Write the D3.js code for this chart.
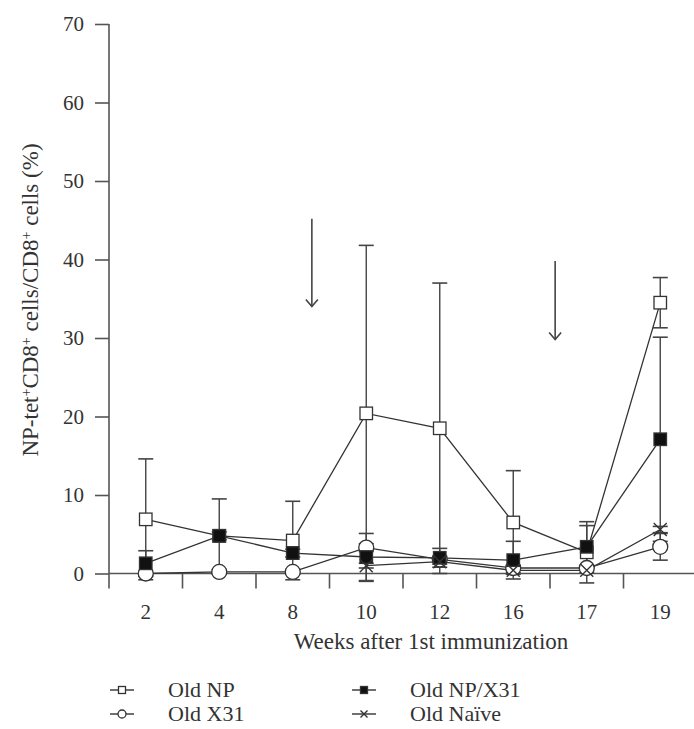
<!DOCTYPE html>
<html>
<head>
<meta charset="utf-8">
<script src="https://cdn.jsdelivr.net/npm/d3@7"></script>
<style>
  body { margin: 0; background: #fff; }
  text { font-family: "Liberation Serif", "Times New Roman", serif; fill: #333; }
</style>
</head>
<body>
<div id="chart"></div>
<script>
// data (mean and SD, % of CD8+ cells)
const weeks = ["2", "4", "8", "10", "12", "16", "17", "19"];
const yTicks = [0, 10, 20, 30, 40, 50, 60, 70];

const npMean   = [6.9, 4.8, 4.2, 20.4, 18.5, 6.5, 2.7, 34.5];
const npSd     = [7.7, 4.7, 5.0, 21.4, 18.5, 6.6, 3.9, 3.2];
const x31Mean  = [0.0, 0.2, 0.2, 3.3, 1.8, 0.7, 0.7, 3.4];
const x31Sd    = [0.3, 0.3, 0.3, 0.5, 0.4, 0.3, 0.3, 1.7];
const npx31Mean = [1.3, 4.8, 2.6, 2.1, 2.0, 1.7, 3.4, 17.1];
const npx31Sd   = [1.6, 0.5, 0.5, 3.0, 1.2, 2.4, 2.7, 13.0];
const naiveWeeks = ["10", "12", "16", "17", "19"];
const naiveMean  = [1.0, 1.5, 0.4, 0.4, 5.6];
const naiveSd    = [0.3, 0.3, 0.3, 0.3, 0.4];

// boost immunizations (between weeks 8/10 and 16/17)
const arrows = [
  {after: "8", frac: 0.26, from: 45.2, to: 34.0},
  {after: "16", frac: 0.57, from: 39.8, to: 29.8}
];

function makeSeries(name, marker, ws, means, sds) {
  return {name: name, marker: marker,
    points: ws.map((w, i) => ({week: w, v: means[i], sd: sds[i]}))};
}

const series = [
  makeSeries("Old NP", "square", weeks, npMean, npSd),
  makeSeries("Old X31", "circle", weeks, x31Mean, x31Sd),
  makeSeries("Old NP/X31", "filled", weeks, npx31Mean, npx31Sd),
  makeSeries("Old Naïve", "cross", naiveWeeks, naiveMean, naiveSd)
];

const W = 694, H = 729;
const svg = d3.select("#chart").append("svg")
  .attr("width", W).attr("height", H);

const x = d3.scaleBand().domain(weeks).range([109, 697]);
const y = d3.scaleLinear().domain([0, 70]).range([573.5, 24]);
const cx = w => x(w) + x.bandwidth() / 2;

const axisColor = "#555";

// y axis
const yAxis = svg.append("g").attr("transform", "translate(109,0)")
  .call(d3.axisLeft(y).tickValues(yTicks).tickSize(14).tickPadding(11).tickFormat(d3.format("d")));
yAxis.select(".domain").attr("d", `M0,${y(70)}V${y(0)}`);

// x axis, ticks on the category boundaries
const xAxis = svg.append("g").attr("transform", `translate(0,${y(0)})`);
xAxis.append("line")
  .attr("x1", 109).attr("x2", W)
  .attr("stroke", axisColor).attr("stroke-width", 1.6);
xAxis.selectAll(".btick")
  .data(weeks)
  .enter().append("line")
  .attr("class", "btick")
  .attr("x1", d => x(d)).attr("x2", d => x(d))
  .attr("y1", 0).attr("y2", 15)
  .attr("stroke", axisColor).attr("stroke-width", 1.6);
xAxis.selectAll(".xlab")
  .data(weeks)
  .enter().append("text")
  .attr("class", "xlab")
  .attr("x", d => cx(d))
  .attr("y", 45)
  .attr("text-anchor", "middle")
  .attr("font-size", 21)
  .text(d => d);

svg.selectAll(".domain, .tick line").attr("stroke", axisColor).attr("stroke-width", 1.6);
yAxis.selectAll(".tick text").attr("font-size", 21).attr("fill", "#333")
  .attr("font-family", "'Liberation Serif', 'Times New Roman', serif");

// axis titles
svg.append("text")
  .attr("x", 431).attr("y", 649)
  .attr("text-anchor", "middle").attr("font-size", 23)
  .text("Weeks after 1st immunization");

const yt = svg.append("text")
  .attr("transform", "translate(38,300) rotate(-90)")
  .attr("text-anchor", "middle").attr("font-size", 23);
yt.append("tspan").text("NP-tet");
yt.append("tspan").attr("baseline-shift", "super").attr("font-size", 14).text("+");
yt.append("tspan").text("CD8");
yt.append("tspan").attr("baseline-shift", "super").attr("font-size", 14).text("+");
yt.append("tspan").text(" cells/CD8");
yt.append("tspan").attr("baseline-shift", "super").attr("font-size", 14).text("+");
yt.append("tspan").text(" cells (%)");

// arrows
const arrowG = svg.append("g");
arrows.forEach(a => {
  const ax = cx(a.after) + a.frac * x.step();
  arrowG.append("line")
    .attr("x1", ax).attr("x2", ax)
    .attr("y1", y(a.from)).attr("y2", y(a.to))
    .attr("stroke", "#444").attr("stroke-width", 1.6);
  arrowG.append("path")
    .attr("d", `M${ax - 6},${y(a.to) - 7}L${ax},${y(a.to)}L${ax + 6},${y(a.to) - 7}`)
    .attr("fill", "none").attr("stroke", "#444").attr("stroke-width", 1.6);
});

const line = d3.line().x(d => cx(d.week)).y(d => y(d.v));

// connecting lines
svg.selectAll(".sline")
  .data(series)
  .enter().append("path")
  .attr("class", "sline")
  .attr("d", s => line(s.points))
  .attr("fill", "none").attr("stroke", "#333").attr("stroke-width", 1.3);

// error bars
series.forEach(s => {
  const g = svg.append("g");
  s.points.forEach(p => {
    const px = cx(p.week);
    const top = y(p.v + p.sd), bot = y(p.v - p.sd);
    g.append("line").attr("x1", px).attr("x2", px).attr("y1", top).attr("y2", bot)
      .attr("stroke", "#444").attr("stroke-width", 1.4);
    [top, bot].forEach(yy => {
      g.append("line").attr("x1", px - 7.5).attr("x2", px + 7.5).attr("y1", yy).attr("y2", yy)
        .attr("stroke", "#444").attr("stroke-width", 1.6);
    });
  });
});

function drawMarker(g, type, px, py, size) {
  const h = size / 2;
  if (type === "square" || type === "filled") {
    g.append("rect").attr("x", px - h).attr("y", py - h)
      .attr("width", size).attr("height", size)
      .attr("fill", type === "filled" ? "#111" : "#fff")
      .attr("stroke", "#333").attr("stroke-width", 1.3);
  } else if (type === "circle") {
    g.append("circle").attr("cx", px).attr("cy", py).attr("r", h)
      .attr("fill", "#fff").attr("stroke", "#333").attr("stroke-width", 1.3);
  } else {
    g.append("path")
      .attr("d", `M${px - h},${py - h}L${px + h},${py + h}M${px - h},${py + h}L${px + h},${py - h}`)
      .attr("stroke", "#333").attr("stroke-width", 1.4).attr("fill", "none");
  }
}

// markers (circles first, so squares and crosses stay on top as in the figure)
const drawOrder = [1, 0, 2, 3];
drawOrder.forEach(i => {
  const s = series[i];
  const g = svg.append("g");
  s.points.forEach(p => {
    drawMarker(g, s.marker, cx(p.week), y(p.v), s.marker === "circle" ? 15 : (s.marker === "cross" ? 13 : 12.5));
  });
});

// legend
const legendPos = [
  {x: 110, y: 690}, {x: 110, y: 714}, {x: 352, y: 690}, {x: 352, y: 714}
];
const legendOrder = [0, 1, 2, 3];
legendOrder.forEach((si, k) => {
  const s = series[si];
  const pos = legendPos[k];
  const g = svg.append("g").attr("transform", `translate(${pos.x},${pos.y})`);
  g.append("line").attr("x1", 0).attr("x2", 24).attr("y1", 0).attr("y2", 0)
    .attr("stroke", "#333").attr("stroke-width", 1.4);
  drawMarker(g, s.marker, 12, 0, s.marker === "circle" ? 8 : 7);
  g.append("text").attr("x", 58).attr("y", 7).attr("font-size", 22).text(s.name);
});
</script>
</body>
</html>
